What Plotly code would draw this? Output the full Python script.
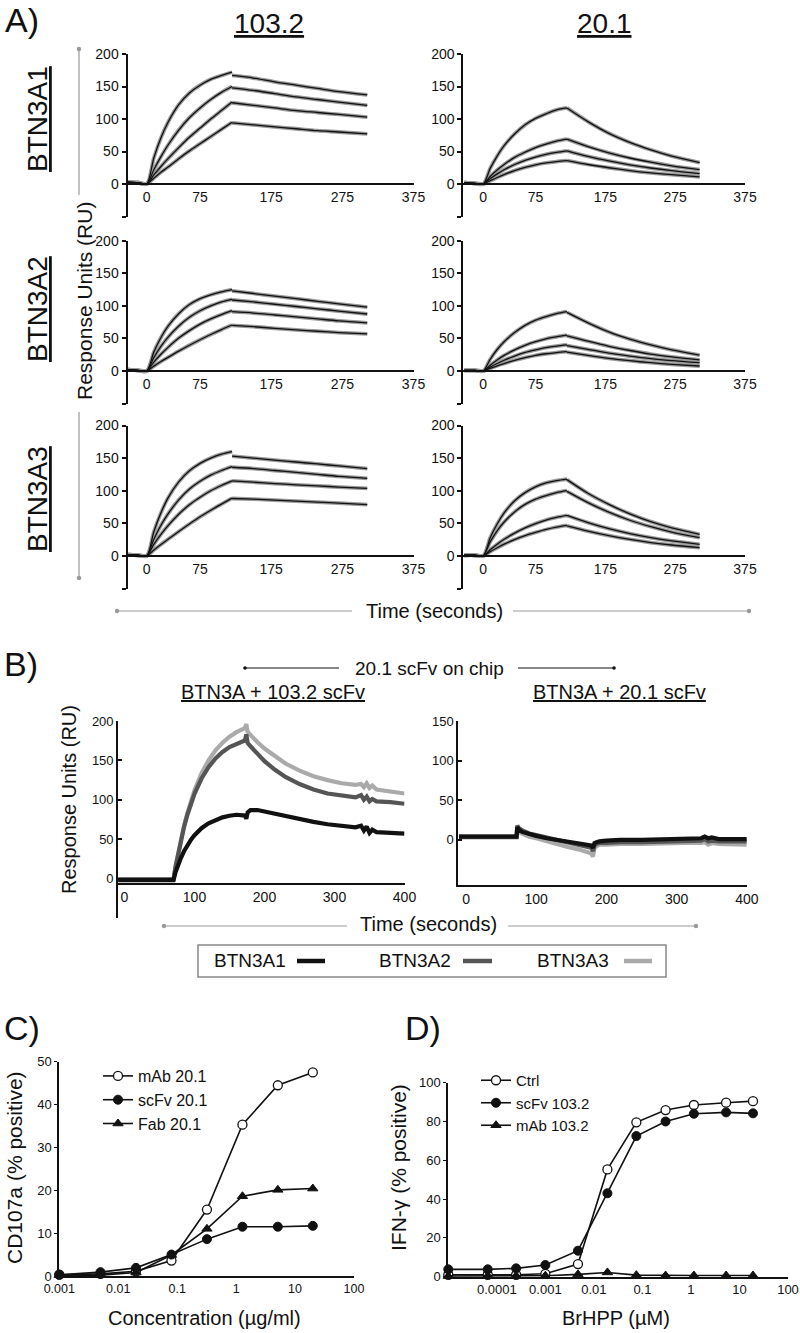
import plotly.graph_objects as go

W, H = 800, 1333
FONT = "Liberation Sans, Arial, sans-serif"

# ---------------- Panel A data (SPR sensorgrams) ----------------
A_T_ASSOC = [-27, -12, 0, 10, 20, 30, 45, 60, 75, 90, 105, 120]
A_T_DISS = [120, 150, 180, 210, 240, 270, 310]
A_XTICKS = [0, 75, 175, 275, 375]
A_YTICKS = [-50, 0, 50, 100, 150, 200]
A_YTICKTEXT = ["", "0", "50", "100", "150", "200"]

A1_103_ASSOC = [
    [3, 2, 0, 40, 71, 95, 122, 140, 152, 161, 167, 172],
    [3, 2, 0, 22, 42, 60, 83, 102, 117, 130, 141, 150],
    [3, 2, 0, 14, 27, 39, 56, 72, 86, 100, 113, 126],
    [3, 2, 0, 9, 18, 26, 39, 51, 62, 73, 84, 95],
]
A1_103_DISS = [
    [167, 163, 157, 152, 147, 142, 137],
    [148, 144, 139, 134, 130, 126, 121],
    [125, 121, 117, 113, 110, 107, 103],
    [94, 91, 88, 85, 82, 80, 77],
]
A1_201_ASSOC = [
    [2, 1, 0, 24, 43, 59, 77, 91, 101, 108, 114, 117],
    [2, 1, 0, 11.5, 21.5, 30, 41, 49, 56, 61.5, 66, 69],
    [2, 1, 0, 8, 15.5, 22, 30, 36.5, 41.5, 45.5, 48.5, 51],
    [2, 1, 0, 5, 10, 14.5, 20.5, 25.5, 29.5, 32.5, 34.5, 36],
]
A1_201_DISS = [
    [117, 96, 78, 64, 52.6, 43, 33],
    [69, 57.6, 48, 40, 33.5, 28, 22],
    [51, 42.5, 35.5, 29.5, 24.6, 20.5, 16],
    [36, 30, 25, 20.7, 17.2, 14.3, 11],
]
A2_103_ASSOC = [
    [2, 1, 0, 29, 51.5, 69, 88, 102, 111, 117, 121.5, 125],
    [2, 1, 0, 20.6, 37.7, 52, 69, 82.5, 92.5, 100, 106, 110],
    [2, 1, 0, 13.7, 25.8, 36.3, 50.5, 62, 72, 80, 86.7, 92.6],
    [2, 1, 0, 7.5, 14.5, 21, 30.5, 39.5, 48, 56, 63.5, 70.6],
]
A2_103_DISS = [
    [123, 119, 115, 111, 107, 103, 98],
    [109, 106, 102.5, 99, 95.5, 92, 87.5],
    [91, 89, 86, 83, 80, 77, 74],
    [70, 68, 65.5, 63, 61, 59, 57],
]
A2_201_ASSOC = [
    [1, 1, 0, 18, 33, 45, 59, 70, 78, 83.5, 88, 91],
    [1, 1, 0, 9, 17, 24, 32.5, 39.5, 45, 49.5, 52.5, 55],
    [1, 1, 0, 6, 11.5, 16.5, 23, 28.5, 32.5, 36, 38.3, 40],
    [1, 1, 0, 4, 8, 11.5, 16.5, 20.5, 24, 26.5, 28.3, 29.7],
]
A2_201_DISS = [
    [90, 74, 60, 49, 40, 32.4, 24.5],
    [54, 45.7, 38, 31.5, 26, 21.8, 17],
    [39, 33.3, 27.6, 23, 19, 16, 12.8],
    [29, 24, 19.5, 15.8, 12.8, 10.3, 7.7],
]
A3_103_ASSOC = [
    [2, 1, 0, 37, 66, 89, 113.5, 130.5, 142, 150, 156, 160],
    [2, 1, 0, 25.5, 47, 64.5, 86, 102.5, 114.5, 124, 131, 137],
    [2, 1, 0, 17.7, 33, 46.5, 64, 78.5, 90, 100, 108, 115],
    [2, 1, 0, 9, 17.5, 25.5, 37.5, 49, 60, 70, 79.5, 88.7],
]
A3_103_DISS = [
    [153, 150, 147, 144, 141, 138, 134],
    [136, 134, 131, 128, 125, 122, 119],
    [115, 113, 111, 109, 107.5, 105.5, 103.6],
    [88, 87, 85.5, 84, 82.5, 81, 78.5],
]
A3_201_ASSOC = [
    [1, 1, 0, 27.7, 49, 66, 84.5, 97, 106, 112, 115.5, 117.8],
    [1, 1, 0, 21.5, 38.5, 52, 67.5, 79, 87, 92.5, 97, 100],
    [1, 1, 0, 9.5, 18, 25.5, 35, 43, 49.5, 55, 59, 62],
    [1, 1, 0, 6.5, 12.5, 18, 25, 31, 36, 40.5, 44, 46.7],
]
A3_201_DISS = [
    [117, 96, 79, 64.5, 52.5, 43, 33],
    [99, 81.8, 67, 54.7, 44.8, 36.6, 28],
    [62, 51, 41.7, 34.2, 28, 23, 17.8],
    [46, 38, 31, 25.2, 20.5, 16.7, 12.7],
]

# ---------------- Panel B data ----------------
B_NAMES = ["BTN3A1", "BTN3A2", "BTN3A3"]
B_COLORS = ["#111111", "#555555", "#aaaaaa"]
B_T_LEFT = [-10, 0, 30, 60, 70, 73, 76, 80, 85, 90, 95, 100, 110, 120, 130, 140, 150, 160,
            172, 174, 176, 180, 190, 200, 215, 230, 250, 270, 290, 310, 330,
            338, 342, 346, 350, 354, 360, 380, 400]
B_LEFT_A1 = [-2, -2, -2, -2, -2, 8.5, 16.2, 25, 34.7, 42.8, 49.5, 55, 64, 70.2, 74.6, 77.7, 79.8, 81,
             80, 76, 84, 87, 87, 85, 82, 79, 75, 72, 69, 67, 65,
             67, 61, 66, 58, 62, 59, 58, 57]
B_LEFT_A2 = [-1, -1, -1, -1, -1, 15.4, 29.6, 46.6, 65.3, 81.4, 95.4, 107.5, 127, 141.5, 152.5, 160.7, 166.9, 171.4,
             175.4, 183, 172, 168, 158, 149, 138, 129, 120, 113, 108, 105, 103,
             106, 100, 104, 98, 101, 98, 97, 95]
B_LEFT_A3 = [-1, -1, -1, -1, -1, 15.6, 30, 47.4, 66.8, 83.9, 98.8, 112, 133.5, 150, 162.8, 172.4, 180, 185.8,
             191, 196, 186, 182, 173, 165, 155, 146, 137, 130, 125, 121, 119,
             120, 116, 121, 115, 118, 113, 111, 108]
B_T_RIGHT = [-10, 0, 30, 60, 72, 73, 75, 80, 90, 100, 115, 130, 145, 160, 170,
             178, 181, 183, 186, 190, 200, 220, 250, 280, 310, 335, 340, 345, 350, 360, 380, 400]
B_RIGHT_A1 = [4, 4, 4, 4, 4, 16, 13, 10, 7, 5, 2, 0, -2, -4, -5,
              -7, -10, -4, -3, -2, -1, 0, 0, 1, 1, 2, 4, 2, 3, 1, 1, 1]
B_RIGHT_A2 = [4, 4, 4, 4, 4, 18, 15, 12, 8, 6, 3, 0, -3, -6, -8,
              -10, -14, -7, -5, -4, -4, -3, -3, -2, -2, -1, 1, -2, -1, -2, -2, -2]
B_RIGHT_A3 = [3, 3, 3, 3, 3, 12, 10, 8, 4, 2, -2, -6, -9, -12, -15,
              -17, -21, -10, -8, -6, -6, -5, -5, -4, -4, -4, -3, -6, -4, -5, -6, -6]
B_LEFT_YTICKS = [-50, 0, 50, 100, 150, 200]
B_LEFT_YTEXT = ["", "0", "50", "100", "150", "200"]
B_RIGHT_YTICKS = [0, 50, 100, 150]
B_XTICKS = [0, 100, 200, 300, 400]

# ---------------- Panel C data ----------------
C_X = [0.001, 0.005, 0.02, 0.08, 0.32, 1.28, 5.1, 20]
C_MAB = [0.3, 0.5, 1.1, 3.6, 15.5, 35.3, 44.5, 47.5]
C_SCFV = [0.3, 0.9, 1.9, 5.0, 8.6, 11.5, 11.5, 11.7]
C_FAB = [0.2, 0.2, 0.8, 4.9, 11.0, 18.6, 20.1, 20.4]
C_XTICKS = [0.001, 0.01, 0.1, 1, 10, 100]
C_XTEXT = ["0.001", "0.01", "0.1", "1", "10", "100"]

# ---------------- Panel D data ----------------
D_X = [1e-5, 6.5e-5, 2.5e-4, 1e-3, 4.7e-3, 0.019, 0.075, 0.3, 1.15, 5.3, 19]
D_CTRL = [1, 1, 1, 1.5, 6.5, 55.3, 79.6, 85.9, 88.5, 89.7, 90.5]
D_SCFV = [3.8, 3.8, 4.3, 6, 13.4, 43, 72.5, 80, 84, 84.7, 84.2]
D_MAB = [0.3, 0.5, 0.5, 0.5, 1.2, 2.2, 0.8, 0.6, 0.6, 0.6, 0.6]
D_XTICKS = [1e-4, 1e-3, 1e-2, 0.1, 1, 10, 100]
D_XTEXT = ["0.0001", "0.001", "0.01", "0.1", "1", "10", "100"]


def fx(px):
    return px / W


def fy(py):
    return 1 - py / H


fig = go.Figure()
layout = dict(
    width=W, height=H, autosize=False,
    margin=dict(l=0, r=0, t=0, b=0, pad=0, autoexpand=False),
    paper_bgcolor="white", plot_bgcolor="rgba(0,0,0,0)",
    font=dict(family=FONT, color="#111111"),
    showlegend=True,
)
annotations = []
shapes = []


def ax_name(i, letter):
    return letter if i == 1 else f"{letter}{i}"


# ---------------- Panel A ----------------
A_PANELS = [
    (A1_103_ASSOC, A1_103_DISS), (A1_201_ASSOC, A1_201_DISS),
    (A2_103_ASSOC, A2_103_DISS), (A2_201_ASSOC, A2_201_DISS),
    (A3_103_ASSOC, A3_103_DISS), (A3_201_ASSOC, A3_201_DISS),
]
A_COL_PX = [(127.5, 413.5), (463.3, 745.0)]
A_COL_XMIN = [-27, -28.5]
A_ROW_PX = [(54.0, 216.5), (240.7, 403.6), (425.5, 588.5)]

for k, (assoc, diss) in enumerate(A_PANELS):
    idx = k + 1
    r, c = divmod(k, 2)
    xa, ya = ax_name(idx, "x"), ax_name(idx, "y")
    for style in ("gray", "black"):
        for ca, cd in zip(assoc, diss):
            for tx, vals in ((A_T_ASSOC, ca), (A_T_DISS, cd)):
                fig.add_trace(go.Scatter(
                    x=tx, y=vals, mode="lines", xaxis=xa, yaxis=ya, showlegend=False,
                    hoverinfo="skip",
                    line=dict(color="#9a9a9a" if style == "gray" else "#111111",
                              width=3.8 if style == "gray" else 1.3,
                              shape="spline", smoothing=0.8)))
    ytop, ybot = A_ROW_PX[r]
    y0 = fy(ybot)
    y1 = fy(ytop)
    zero_pos = y0 + (0 - (-50)) / 250 * (y1 - y0)
    layout[ax_name(idx, "xaxis")] = dict(
        domain=[fx(A_COL_PX[c][0]), fx(A_COL_PX[c][1])], range=[A_COL_XMIN[c], 375],
        anchor="free", position=zero_pos, showline=True, linecolor="#111111", linewidth=2,
        tickvals=A_XTICKS, ticks="", tickfont=dict(size=14), showgrid=False, zeroline=False,
        automargin=False)
    layout[ax_name(idx, "yaxis")] = dict(
        domain=[y0, y1], range=[-50, 200], anchor=xa, showline=True, linecolor="#111111",
        linewidth=2, tickvals=A_YTICKS, ticktext=A_YTICKTEXT, ticks="outside", ticklen=4,
        tickwidth=1.5, tickcolor="#111111", tickfont=dict(size=14), showgrid=False, zeroline=False,
        automargin=False)

# ---------------- Panel B ----------------
B_LEFT = [B_LEFT_A3, B_LEFT_A2, B_LEFT_A1]
B_RIGHT = [B_RIGHT_A3, B_RIGHT_A2, B_RIGHT_A1]
B_ORDER_COLORS = [B_COLORS[2], B_COLORS[1], B_COLORS[0]]
for vals, col in zip(B_LEFT, B_ORDER_COLORS):
    fig.add_trace(go.Scatter(x=B_T_LEFT, y=vals, mode="lines", xaxis="x7", yaxis="y7",
                             showlegend=False, hoverinfo="skip",
                             line=dict(color=col, width=4.2)))
for vals, col in zip(B_RIGHT, B_ORDER_COLORS):
    fig.add_trace(go.Scatter(x=B_T_RIGHT, y=vals, mode="lines", xaxis="x8", yaxis="y8",
                             showlegend=False, hoverinfo="skip",
                             line=dict(color=col, width=4.2)))

b_y0, b_y1 = fy(918), fy(721)
layout["xaxis7"] = dict(domain=[fx(118.2), fx(404.5)], range=[-9, 400], anchor="free",
                        position=b_y0 + (-7 + 50) / 250 * (b_y1 - b_y0),
                        showline=True, linecolor="#111111", linewidth=2, tickvals=B_XTICKS,
                        ticks="", tickfont=dict(size=14), showgrid=False, zeroline=False,
                        automargin=False)
layout["yaxis7"] = dict(domain=[b_y0, b_y1], range=[-50, 200], anchor="x7", showline=True,
                        linecolor="#111111", linewidth=2, tickvals=B_LEFT_YTICKS,
                        ticktext=B_LEFT_YTEXT, ticks="inside", ticklen=4, tickwidth=1.5,
                        tickcolor="#111111", tickfont=dict(size=13), showgrid=False, zeroline=False,
                        automargin=False)
layout["xaxis8"] = dict(domain=[fx(458.3), fx(746.8)], range=[-11, 400], anchor="y8",
                        showline=True, linecolor="#111111", linewidth=2, tickvals=B_XTICKS,
                        ticks="", tickfont=dict(size=14), showgrid=False, zeroline=False,
                        automargin=False)
layout["yaxis8"] = dict(domain=[fy(885), fy(721)], range=[-57, 150], anchor="x8", showline=True,
                        linecolor="#111111", linewidth=2, tickvals=B_RIGHT_YTICKS,
                        ticks="inside", ticklen=4, tickwidth=1.5, tickcolor="#111111",
                        tickfont=dict(size=13), showgrid=False, zeroline=False, automargin=False)

# ---------------- Panel C ----------------
open_m = dict(symbol="circle", size=9, color="white", line=dict(color="#111111", width=1.3))
fill_m = dict(symbol="circle", size=9, color="#111111", line=dict(color="#111111", width=1))
tri_m = dict(symbol="triangle-up", size=9, color="#111111", line=dict(color="#111111", width=1))
line_s = dict(color="#111111", width=1.6)

for name, vals, mk in (("mAb 20.1", C_MAB, open_m), ("scFv 20.1", C_SCFV, fill_m),
                       ("Fab 20.1", C_FAB, tri_m)):
    fig.add_trace(go.Scatter(x=C_X, y=vals, name=name, mode="lines+markers", xaxis="x9",
                             yaxis="y9", marker=mk, line=line_s, cliponaxis=False,
                             legend="legend"))
layout["xaxis9"] = dict(domain=[fx(59.3), fx(354)], type="log", range=[-3, 2], anchor="y9",
                        showline=True, linecolor="#111111", linewidth=2, tickvals=C_XTICKS,
                        ticktext=C_XTEXT, ticks="", tickfont=dict(size=12.5), showgrid=False,
                        zeroline=False, automargin=False)
layout["yaxis9"] = dict(domain=[fy(1276), fy(1061.7)], range=[0, 50], anchor="x9", showline=True,
                        linecolor="#111111", linewidth=2, dtick=10, ticks="outside", ticklen=3,
                        tickcolor="#111111", tickfont=dict(size=13), showgrid=False, zeroline=False,
                        automargin=False)

# ---------------- Panel D ----------------
for name, vals, mk in (("Ctrl", D_CTRL, open_m), ("scFv 103.2", D_SCFV, fill_m),
                       ("mAb 103.2", D_MAB, tri_m)):
    fig.add_trace(go.Scatter(x=D_X, y=vals, name=name, mode="lines+markers", xaxis="x10",
                             yaxis="y10", marker=mk, line=line_s, cliponaxis=False,
                             legend="legend2"))
layout["xaxis10"] = dict(domain=[fx(448.3), fx(788)], type="log", range=[-5, 2], anchor="y10",
                         showline=True, linecolor="#111111", linewidth=2, tickvals=D_XTICKS,
                         ticktext=D_XTEXT, ticks="", tickfont=dict(size=13), showgrid=False,
                         zeroline=False, automargin=False)
layout["yaxis10"] = dict(domain=[fy(1276.7), fy(1082.7)], range=[0, 100], anchor="x10",
                         showline=True, linecolor="#111111", linewidth=2, dtick=20,
                         ticks="outside", ticklen=3, tickcolor="#111111", tickfont=dict(size=13),
                         showgrid=False, zeroline=False, automargin=False)

layout["legend"] = dict(x=fx(98), y=fy(1059), xanchor="left", yanchor="top",
                        bgcolor="rgba(0,0,0,0)", font=dict(size=16), itemwidth=30,
                        tracegroupgap=0)
layout["legend2"] = dict(x=fx(476), y=fy(1064), xanchor="left", yanchor="top",
                         bgcolor="rgba(0,0,0,0)", font=dict(size=15), itemwidth=30,
                         tracegroupgap=0)


# ---------------- Text annotations ----------------
def ann(text, px, py, size, angle=0, color="#111111"):
    annotations.append(dict(text=text, x=fx(px), y=fy(py), xref="paper", yref="paper",
                            showarrow=False, textangle=angle, xanchor="center",
                            yanchor="middle", font=dict(size=size, color=color, family=FONT)))


ann("A)", 22, 20, 34)
ann("<u>103.2</u>", 269, 24, 28)
ann("<u>20.1</u>", 604, 24, 28)
ann("<u>BTN3A1</u>", 38, 119, 28, -90)
ann("<u>BTN3A2</u>", 38, 309, 28, -90)
ann("<u>BTN3A3</u>", 38, 499, 28, -90)
ann("Response Units (RU)", 84, 301, 21, -90)
ann("Time (seconds)", 434, 611, 20)
ann("B)", 21, 664, 34)
ann("20.1 scFv on chip", 429, 668, 19)
ann("<u>BTN3A + 103.2 scFv</u>", 273, 692, 20)
ann("<u>BTN3A + 20.1 scFv</u>", 619, 692, 20)
ann("Response Units (RU)", 69, 800, 20, -90)
ann("Time (seconds)", 428, 924, 20)
ann("C)", 22, 1028, 34)
ann("D)", 423, 1028, 34)
ann("CD107a (% positive)", 14, 1168, 21, -90)
ann("IFN-\u03b3 (% positive)", 398, 1168, 21, -90)
ann("Concentration (\u00b5g/ml)", 204, 1318, 20)
ann("BrHPP (\u00b5M)", 616, 1318, 20)

# B legend (text followed by line sample)
for name, col, tx, lx0, lx1 in zip(B_NAMES, B_COLORS, [250, 415, 573], [297, 463, 624],
                                   [325, 492, 652]):
    ann(name, tx, 961, 19)
    shapes.append(dict(type="line", xref="paper", yref="paper", x0=fx(lx0), x1=fx(lx1),
                       y0=fy(961), y1=fy(961), line=dict(color=col, width=4.5)))
shapes.append(dict(type="rect", xref="paper", yref="paper", x0=fx(198), x1=fx(666),
                   y0=fy(977), y1=fy(945), line=dict(color="#888888", width=1.5)))


# connector lines with end dots
def seg(x0, y0, x1, y1, color, width=1.2):
    shapes.append(dict(type="line", xref="paper", yref="paper", x0=fx(x0), y0=fy(y0),
                       x1=fx(x1), y1=fy(y1), line=dict(color=color, width=width)))


def dot(px, py, color, r=2.2):
    shapes.append(dict(type="circle", xref="paper", yref="paper", x0=fx(px - r), x1=fx(px + r),
                       y0=fy(py + r), y1=fy(py - r), fillcolor=color, line=dict(width=0)))


GRAY = "#999999"
seg(79, 49, 79, 195, GRAY)
seg(79, 412, 79, 578, GRAY)
dot(79, 49, GRAY)
dot(79, 578, GRAY)
seg(117, 611, 352, 611, GRAY)
seg(513, 611, 749, 611, GRAY)
dot(117, 611, GRAY)
dot(749, 611, GRAY)
seg(245, 668, 339, 668, "#111111")
seg(518, 668, 614, 668, "#111111")
dot(245, 668, "#111111", 1.8)
dot(614, 668, "#111111", 1.8)
seg(164, 926, 347, 926, GRAY)
seg(508, 926, 696, 926, GRAY)
dot(164, 926, GRAY)
dot(696, 926, GRAY)

layout["annotations"] = annotations
layout["shapes"] = shapes
fig.update_layout(**layout)
fig.write_html("out.html",
               config={"displayModeBar": False},
               post_script="document.body.style.margin='0px';"
                           "document.body.style.padding='0px';"
                           "document.body.style.overflow='hidden';")
